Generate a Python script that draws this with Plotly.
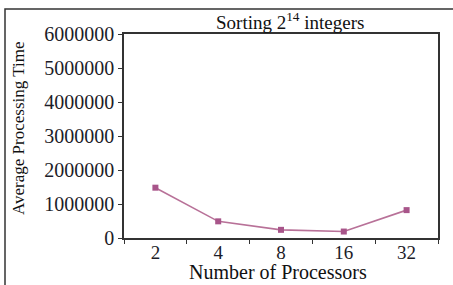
import plotly.graph_objects as go

processors = ["2", "4", "8", "16", "32"]
avg_time = [1480000, 490000, 240000, 190000, 820000]
y_ticks = [0, 1000000, 2000000, 3000000, 4000000, 5000000, 6000000]

W, H = 453, 285
L, R, T, B = 124, 15, 34, 47
pw, ph = W - L - R, H - T - B

def px(x):
    return (x - L) / pw

def py(y):
    return (H - B - y) / ph

serif = "Liberation Serif, Times New Roman, serif"

fig = go.Figure()
fig.add_trace(go.Scatter(
    x=processors, y=avg_time, mode="lines+markers",
    line=dict(color="#b87198", width=1.6),
    marker=dict(symbol="square", size=6, color="#a8558a"),
    showlegend=False,
))

fig.update_layout(
    width=W, height=H,
    margin=dict(l=L, r=R, t=T, b=B),
    paper_bgcolor="white", plot_bgcolor="white",
    font=dict(family=serif, color="#1c1c28"),
    xaxis=dict(
        type="category", tickson="boundaries", ticks="outside", ticklen=4,
        tickcolor="#333", showline=True, linecolor="#333", linewidth=1.5,
        mirror=True, showgrid=False, zeroline=False,
        tickfont=dict(size=19, family=serif, color="#1c1c28"),
        ticklabelstandoff=-4,
        range=[-0.5, 4.5],
    ),
    yaxis=dict(
        range=[0, 6000000], tickvals=y_ticks,
        ticktext=[str(v) for v in y_ticks],
        ticks="outside", ticklen=4, tickcolor="#333",
        showline=True, linecolor="#333", linewidth=1.5, mirror=True,
        showgrid=False, zeroline=False,
        tickfont=dict(size=20, family=serif, color="#1c1c28"),
    ),
    shapes=[dict(
        type="rect", xref="paper", yref="paper",
        x0=px(5), x1=px(470), y0=py(300), y1=py(9),
        line=dict(color="#333", width=1.5), fillcolor="rgba(0,0,0,0)",
    )],
    annotations=[
        dict(text="Sorting 2<sup>14</sup> integers", xref="paper", yref="paper",
             x=px(290), y=py(35), showarrow=False, xanchor="center", yanchor="bottom",
             font=dict(size=19, family=serif, color="#111")),
        dict(text="Average Processing Time", xref="paper", yref="paper",
             x=px(18), y=py(129), showarrow=False, textangle=-90,
             xanchor="center", yanchor="middle",
             font=dict(size=17, family=serif, color="#111")),
        dict(text="Number of Processors", xref="paper", yref="paper",
             x=px(278), y=py(272), showarrow=False, xanchor="center", yanchor="middle",
             font=dict(size=20, family=serif, color="#111")),
    ],
)

fig.write_html("out.html", config={"displayModeBar": False},
               post_script="document.body.style.margin='0px';document.body.style.overflow='hidden';")
